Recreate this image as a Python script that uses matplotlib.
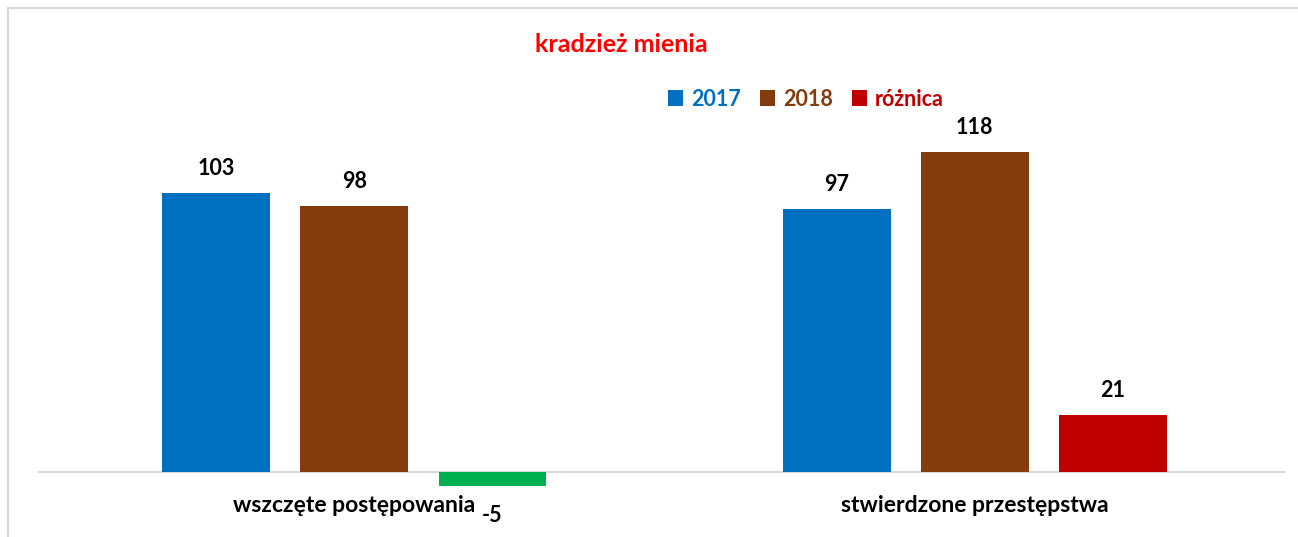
import numpy as np
import matplotlib.pyplot as plt
from matplotlib.patches import Rectangle

plt.rcParams['font.family'] = ['Lato', 'DejaVu Sans']

categories = ['wszczęte postępowania', 'stwierdzone przestępstwa']
v2017 = [103, 97]
v2018 = [98, 118]
diff = [-5, 21]
series_names = ['2017', '2018', 'różnica']

c2017 = '#0070c0'
c2018 = '#843c0c'
c_pos = '#c00000'
c_neg = '#00b050'

fig = plt.figure(figsize=(12.98, 5.37), dpi=100)
ax = fig.add_axes([38 / 1298, 0.0706, 1247 / 1298, 0.858])

x = np.arange(len(categories))
w = 0.174
off = 0.2226
b1 = ax.bar(x - off, v2017, w, color=c2017)
b2 = ax.bar(x, v2018, w, color=c2018)
dcol = [c_neg if d < 0 else c_pos for d in diff]
b3 = ax.bar(x + off, diff, w, color=dcol)

ax.set_xlim(-0.51, 1.5)
ax.set_ylim(-10, 160)
ax.axis('off')
ax.axhline(0, color='#d9d9d9', lw=1.5, zorder=0)

lab = dict(fontsize=15.5, fontweight='bold', color='black', ha='center')
for bars, vals in [(b1, v2017), (b2, v2018), (b3, diff)]:
    for b, v in zip(bars, vals):
        cx = b.get_x() + b.get_width() / 2
        if v >= 0:
            ax.annotate(str(v), (cx, v), xytext=(0, 10), textcoords='offset points',
                        va='bottom', **lab)
        else:
            ax.annotate(str(v), (cx, v), xytext=(0, -14), textcoords='offset points',
                        va='top', **lab)

for xi, c in zip(x, categories):
    ax.annotate(c, (xi, 0), xytext=(0, -24), textcoords='offset points',
                va='center', ha='center', fontsize=16.5, fontweight='bold', color='black')

fig.text(621 / 1298, 1 - 45 / 537, 'kradzież mienia', color='#ff0000', fontsize=18,
         fontweight='bold', ha='center', va='center')

leg = ax.legend([b1[0], b2[0], b3[1]], series_names, loc='center',
                bbox_to_anchor=(806 / 1298, 1 - 99 / 537), bbox_transform=fig.transFigure,
                ncol=3, frameon=False, handlelength=0.7, handleheight=0.7,
                handletextpad=0.35, columnspacing=0.9,
                prop=dict(size=15.5, weight='bold'))
for t, c in zip(leg.get_texts(), [c2017, c2018, c_pos]):
    t.set_color(c)

fig.patches.append(Rectangle((8 / 1298, -0.1), 1.2, 1 - 8 / 537 + 0.1,
                             transform=fig.transFigure, fill=False,
                             edgecolor='#d9d9d9', lw=1.5))

fig.savefig('out.png', dpi=100)
